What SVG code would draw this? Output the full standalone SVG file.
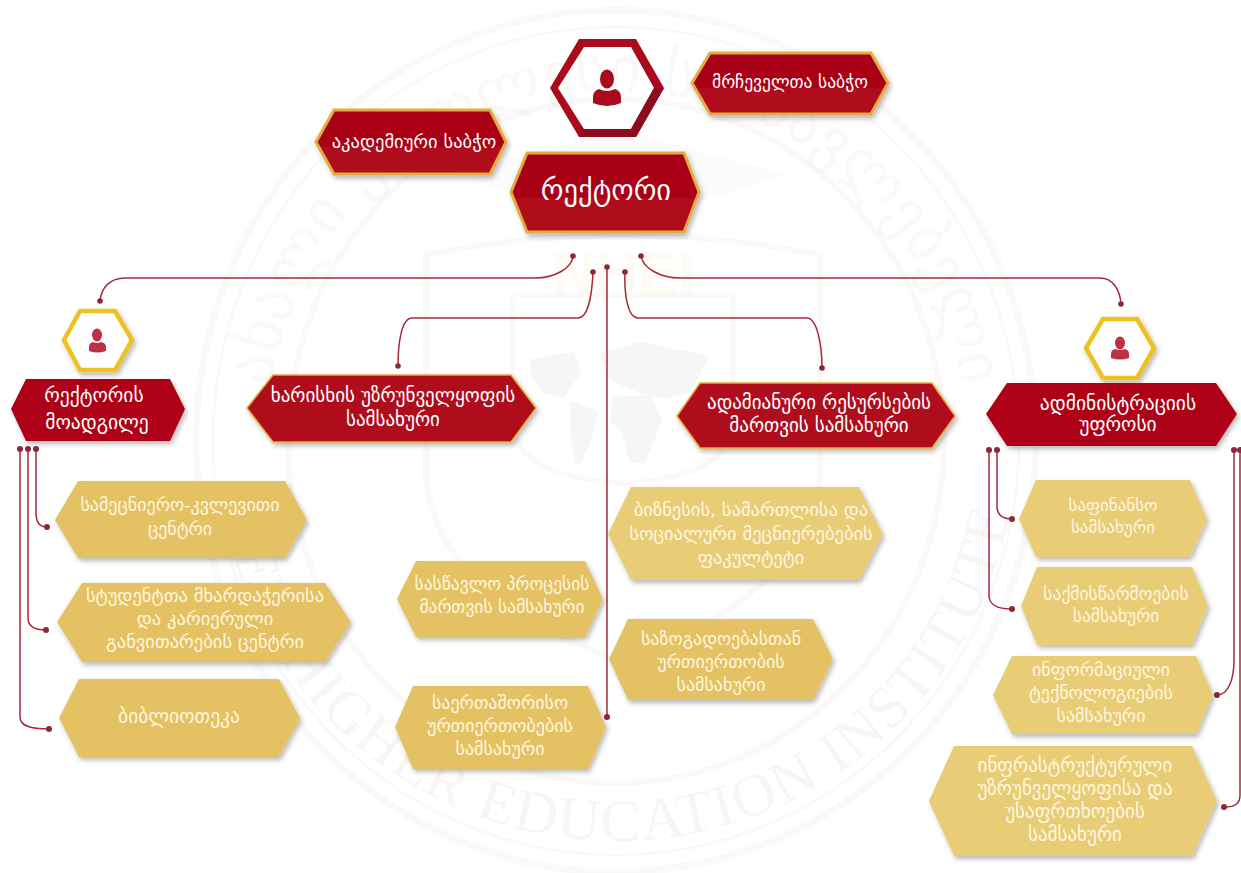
<svg xmlns="http://www.w3.org/2000/svg" width="1241" height="873" viewBox="0 0 1241 873">
<style>
text{font-family:"DejaVu Sans","Noto Sans",sans-serif;text-anchor:middle;fill:#fff}
.t1{font-size:28.500px}
.s17{font-size:17px}
.s175{font-size:17.500px}
.s18{font-size:18px}
.s185{font-size:18.500px}
.s19{font-size:19px}
.s195{font-size:19.500px}
.g text{fill:#fff6df}
.red{fill:url(#rg);stroke:#e5ab3f;stroke-width:3;filter:url(#sh)}
.redt{fill:#af0a1c;stroke:#e5ab3f;stroke-width:1.5;filter:url(#sh)}
.redn{fill:#ae0016;filter:url(#sh)}
.gold{fill:#e4c162;filter:url(#sh)}
.pale{fill:#e8cc76;filter:url(#sh)}
.yh{fill:#fff;stroke:#eec021;stroke-width:4.5;filter:url(#sh)}
.p{fill:#bf3044}
.c{fill:none;stroke:#a8293b;stroke-width:1.5}
.d{fill:#8d2637}
.wm{fill:none;stroke:#8b2020;stroke-opacity:.03}
.wt{font-family:"Liberation Serif",serif;font-size:60px;fill:#8b2020;fill-opacity:.045;letter-spacing:2px}
.wg{font-size:62px;fill:#8b2020;fill-opacity:.03}
.map{fill:#f6f6f6;stroke:#f6f6f6;stroke-width:6;stroke-linejoin:round}
</style>
<defs>
<filter id="sh" x="-15%" y="-20%" width="135%" height="150%"><feDropShadow dx="2" dy="3" stdDeviation="2.500" flood-color="#000" flood-opacity=".28"/></filter>
<linearGradient id="rg" x1="0" y1="0" x2="0" y2="1"><stop offset="0" stop-color="#a80012"/><stop offset=".55" stop-color="#a90214"/><stop offset=".6" stop-color="#b00c1e"/><stop offset="1" stop-color="#b00c1e"/></linearGradient>
<path id="arcb" d="M216 441a400 400 0 0 0 800 0"/>
<path id="arct" d="M266 441a350 350 0 0 1 700 0"/>
</defs>
<rect width="1241" height="873" fill="#fff"/>
<g id="watermark">
<ellipse class="wm" cx="616" cy="441" rx="420" ry="431" stroke-width="7"/>
<ellipse class="wm" cx="616" cy="441" rx="403" ry="414" stroke-width="3"/>
<ellipse class="wm" cx="616" cy="441" rx="328" ry="342" stroke-width="6"/>
<text class="wt"><textPath href="#arcb" startOffset="50%">NEW HIGHER EDUCATION INSTITUTE</textPath></text>
<text class="wg"><textPath href="#arct" startOffset="50%">ახალი უმაღლესი სასწავლებელი</textPath></text>
<path class="wm" stroke-width="6" d="M426 255Q620 215 820 255V480Q800 600 620 660Q440 600 426 480Z"/>
<path class="wm" stroke-width="5" d="M513 295H733V420Q733 477 623 483Q513 477 513 420Z"/>
<path d="M455 175L620 130L788 175L620 225Z" fill="#000" fill-opacity=".014"/>
<text x="623" y="293" style="font-family:'Liberation Sans',sans-serif;font-size:60px;font-weight:700;fill:#e4c162;fill-opacity:.07">NHEI</text>
<g class="map">
<path d="M533 362L572 355L578 372L562 395L545 390L535 378Z"/>
<path d="M573 404L595 414L588 440L578 462L574 440Z"/>
<path d="M603 355L640 345L705 358L688 390L665 396L640 390L612 378Z"/>
<path d="M615 400L648 398L659 420L643 460L632 460L624 430L613 420Z"/>
</g>
</g>
<g id="connectors">
<path class="c" d="M573 256C572 268 555 278 535 278H125C110 278 101 288 100 301"/>
<path class="c" d="M641 256C643 268 660 278 680 278H1100C1113 278 1120 290 1121 304"/>
<path class="c" d="M593 272C592 295 588 318 578 318H412C401 318 398 345 398 366"/>
<path class="c" d="M625 272C624 295 628 318 638 318H807C817 318 822 345 822 368"/>
<path class="c" d="M607 267V717"/>
<path class="c" d="M36 449V513C36 523 40 527 47 527"/>
<path class="c" d="M28 449V618C28 626 34 630 46 630"/>
<path class="c" d="M20 449V717C20 725 28 729 49 729"/>
<path class="c" d="M997 450V506C997 515 1003 519 1012 519"/>
<path class="c" d="M989 450V595C989 604 995 609 1012 609"/>
<path class="c" d="M1234 450V660C1234 680 1228 695 1217 695"/>
<path class="c" d="M1240 450V795C1240 803 1236 807 1224 807"/>
<g class="d">
<circle cx="573" cy="256" r="2.800"/><circle cx="641" cy="256" r="2.800"/><circle cx="593" cy="272" r="2.800"/><circle cx="625" cy="272" r="2.800"/><circle cx="607" cy="267" r="2.800"/><circle cx="607" cy="717" r="3"/>
<circle cx="100" cy="301" r="2.800"/><circle cx="1121" cy="304" r="2.800"/><circle cx="398" cy="366" r="2.800"/><circle cx="822" cy="368" r="2.800"/>
<circle cx="36" cy="449" r="3"/><circle cx="28" cy="449" r="3"/><circle cx="20" cy="449" r="3"/><circle cx="47" cy="527" r="3"/><circle cx="46" cy="630" r="3"/><circle cx="49" cy="729" r="3"/>
<circle cx="997" cy="450" r="3"/><circle cx="989" cy="450" r="3"/><circle cx="1012" cy="519" r="3"/><circle cx="1012" cy="609" r="3"/>
<circle cx="1234" cy="450" r="3"/><circle cx="1240" cy="450" r="3"/><circle cx="1217" cy="695" r="3"/><circle cx="1224" cy="807" r="3"/>
</g>
</g>
<g id="icon-top">
<path fill="#ab0a1c" fill-rule="evenodd" d="M579 39H636L664 88L636 137H579L550 88ZM584 47L558 88L584 129H631L654 88L631 47Z"/>
<path fill="#8c0c1e" d="M584 129H631L654 88L664 88L636 137H579Z"/>
<ellipse cx="607" cy="79" rx="7" ry="9.500" fill="#ab0a1c"/>
<path fill="#ab0a1c" d="M593 97Q593 91 599 89Q607 93 615 89Q621 91 621 97V103Q607 109 593 103Z"/>
</g>
<g id="node-advisory"><polygon class="red" points="692,83 710,53 871,53 888,83 871,114 710,114"/><text class="s175" x="790" y="88">მრჩეველთა საბჭო</text></g>
<g id="node-academic"><polygon class="red" points="316,142 334,110 490,110 506,142 490,174 334,174"/><text class="s185" x="414" y="148">აკადემიური საბჭო</text></g>
<g id="node-rector"><polygon class="red" points="511,192 527,153 684,153 699,192 684,232 527,232"/><text class="t1" x="606" y="200">რექტორი</text></g>
<g id="icon-deputy"><polygon class="yh" points="64,340 80,311 115,311 132,340 115,370 80,370"/><ellipse class="p" cx="97" cy="335" rx="5" ry="6.500"/><path class="p" d="M89 347Q89 343 93 342Q97 344 101 342Q106 343 106 347V351Q97 354 89 351Z"/></g>
<g id="icon-admin"><polygon class="yh" points="1086,348 1103,319 1137,319 1154,348 1137,378 1103,378"/><ellipse class="p" cx="1120" cy="343" rx="5" ry="6.500"/><path class="p" d="M1111 354Q1111 350 1115 349Q1120 351 1125 349Q1129 350 1129 354V358Q1120 361 1111 358Z"/></g>
<g id="node-deputy"><polygon class="redn" points="11,409 26,379 170,379 185,409 170,441 26,441"/><text class="s195" x="94" y="402">რექტორის</text><text class="s195" x="97" y="429">მოადგილე</text></g>
<g id="node-quality"><polygon class="redt" points="247,408 273,375 511,375 536,408 511,442 273,442"/><text class="s19" x="393" y="402">ხარისხის უზრუნველყოფის</text><text class="s19" x="393" y="426">სამსახური</text></g>
<g id="node-hr"><polygon class="redt" points="677,416 700,383 932,383 955,416 932,448 700,448"/><text class="s19" x="819" y="409">ადამიანური რესურსების</text><text class="s19" x="819" y="432">მართვის სამსახური</text></g>
<g id="node-admin"><polygon class="redn" points="986,414 1007,383 1216,383 1237,414 1216,446 1007,446"/><text class="s195" x="1118" y="410">ადმინისტრაციის</text><text class="s195" x="1118" y="431">უფროსი</text></g>
<g class="g">
<g id="node-research"><polygon class="gold" points="55,520 78,481 285,481 307,520 285,558 78,558"/><text class="s18" x="180" y="511">სამეცნიერო-კვლევითი</text><text class="s18" x="180" y="535">ცენტრი</text></g>
<g id="node-students"><polygon class="gold" points="57,622 82,583 325,583 351,622 325,662 82,662"/><text class="s185" x="205" y="602">სტუდენტთა მხარდაჭერისა</text><text class="s185" x="205" y="625">და კარიერული</text><text class="s185" x="205" y="648">განვითარების ცენტრი</text></g>
<g id="node-library"><polygon class="gold" points="59,718 79,679 279,679 300,718 279,757 79,757"/><text class="s195" x="179" y="723">ბიბლიოთეკა</text></g>
<g id="node-teaching"><polygon class="gold" points="397,599 416,561 585,561 603,599 585,637 416,637"/><text class="s175" x="502" y="590">სასწავლო პროცესის</text><text class="s175" x="502" y="613">მართვის სამსახური</text></g>
<g id="node-intl"><polygon class="gold" points="395,727 413,686 588,686 606,727 588,769 413,769"/><text class="s18" x="500" y="709">საერთაშორისო</text><text class="s18" x="500" y="732">ურთიერთობების</text><text class="s18" x="500" y="755">სამსახური</text></g>
<g id="node-faculty"><polygon class="pale" points="608,534 631,487 859,487 883,534 859,580 631,580"/><text class="s185" x="751" y="516">ბიზნესის, სამართლისა და</text><text class="s185" x="751" y="540">სოციალური მეცნიერებების</text><text class="s185" x="751" y="564">ფაკულტეტი</text></g>
<g id="node-pr"><polygon class="gold" points="609,659 628,619 813,619 833,659 813,700 628,700"/><text class="s18" x="721" y="645">საზოგადოებასთან</text><text class="s18" x="721" y="668">ურთიერთობის</text><text class="s18" x="721" y="691">სამსახური</text></g>
<g id="node-finance"><polygon class="pale" points="1019,519 1036,480 1190,480 1207,519 1190,557 1036,557"/><text class="s17" x="1113" y="511">საფინანსო</text><text class="s17" x="1113" y="533">სამსახური</text></g>
<g id="node-records"><polygon class="pale" points="1021,606 1037,567 1192,567 1208,606 1192,645 1037,645"/><text class="s175" x="1116" y="600">საქმისწარმოების</text><text class="s175" x="1116" y="622">სამსახური</text></g>
<g id="node-it"><polygon class="pale" points="993,695 1012,656 1196,656 1213,695 1196,734 1012,734"/><text class="s18" x="1101" y="676">ინფორმაციული</text><text class="s18" x="1101" y="699">ტექნოლოგიების</text><text class="s18" x="1101" y="722">სამსახური</text></g>
<g id="node-infra"><polygon class="pale" points="929,801 954,746 1192,746 1217,801 1192,856 954,856"/><text class="s19" x="1075" y="772">ინფრასტრუქტურული</text><text class="s19" x="1075" y="795">უზრუნველყოფისა და</text><text class="s19" x="1075" y="818">უსაფრთხოების</text><text class="s19" x="1075" y="841">სამსახური</text></g>
</g>
</svg>
